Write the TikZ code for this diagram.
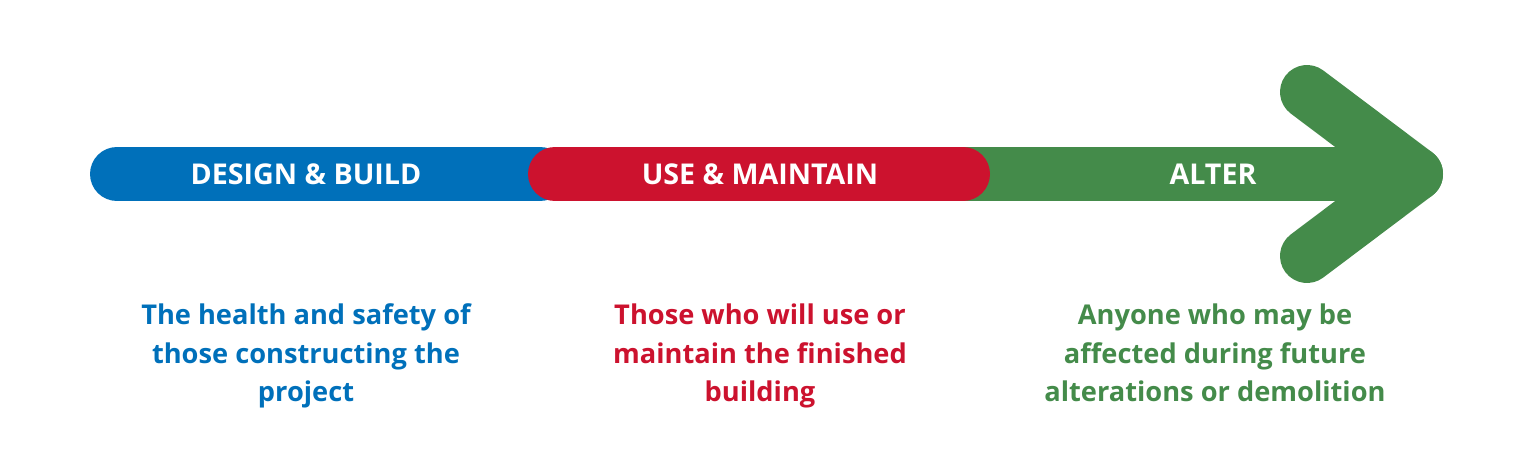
\documentclass[tikz,border=0pt]{standalone}
\usepackage{fontspec}
\setmainfont{Open Sans}
\usetikzlibrary{calc}
\definecolor{dbblue}{RGB}{0,112,186}
\definecolor{umred}{RGB}{204,18,46}
\definecolor{algreen}{RGB}{68,139,74}
\tikzset{
    my-bar/.style={line width=1.08cm, line cap=round, line join=round},
    my-stage/.style={text=white, font=\fontsize{16.3}{20}\selectfont\bfseries},
    my-note/.style={align=center, font=\fontsize{15.5}{22}\selectfont\bfseries},
}
\begin{document}
\begin{tikzpicture}[x=0.02cm, y=-0.02cm]

        \useasboundingbox (0,0) rectangle (1536,476);

        % BAR END POINTS
        \coordinate (DBL) at (117,174);
        \coordinate (DBR) at (540,174);
        \coordinate (UML) at (555,174);
        \coordinate (UMR) at (963,174);
        \coordinate (ALL) at (940,174);
        \coordinate (TIP) at (1416,174);
        \coordinate (ARMUP) at (1307,92);
        \coordinate (ARMDN) at (1307,256);

        % BARS AND ARROW HEAD
        \draw[my-bar, algreen] (ALL) -- (TIP);
        \draw[my-bar, algreen] (ARMUP) -- (TIP) -- (ARMDN);
        \draw[my-bar, dbblue]  (DBL) -- (DBR);
        \draw[my-bar, umred]   (UML) -- (UMR);

        % STAGE LABELS
        \node[my-stage] (DB) at (306,174) {DESIGN \& BUILD};
        \node[my-stage] (UM) at (760,174) {USE \& MAINTAIN};
        \node[my-stage] (AL) at (1213,174) {ALTER};

        % NOTES
        \node[my-note, text=dbblue]  (DBNOTE) at (306,356)  {The health and safety of\\those constructing the\\project};
        \node[my-note, text=umred]   (UMNOTE) at (760,356)  {Those who will use or\\maintain the finished\\building};
        \node[my-note, text=algreen] (ALNOTE) at (1215,353) {Anyone who may be\\affected during future\\alterations or demolition};

\end{tikzpicture}
\end{document}
